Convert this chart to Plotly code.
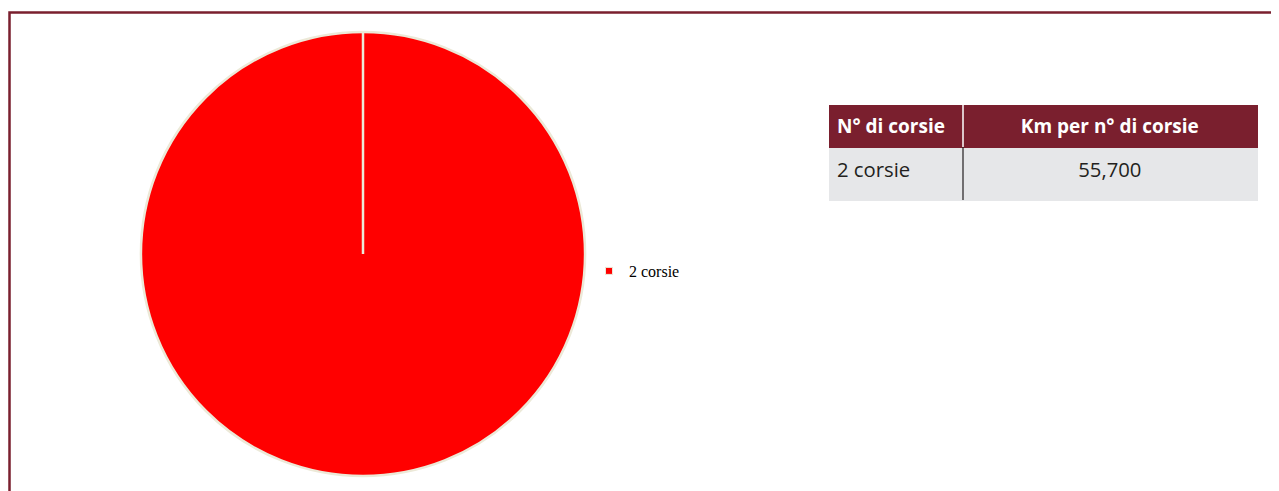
import plotly.graph_objects as go

# data
labels = ['2 corsie']
km_values = [55.7]
header_cols = ['N° di corsie', 'Km per n° di corsie']
col_corsie = ['2 corsie']
col_km = ['55,700']

# page has an 8px body margin, so positions below are page px minus 8
W, H = 1279, 491
wine = '#7a1f2e'
edge = '#ece9d8'
red = '#ff0000'
grey = '#e6e7e9'


def lowered(vals):
    # big cell font + <sub> (70%) -> ~20px text sitting lower in the tall row
    return ['<sub>%s</sub>' % v for v in vals]


fig = go.Figure()

fig.add_trace(go.Pie(
    labels=labels, values=km_values,
    marker=dict(colors=[red], line=dict(color=edge, width=2.5)),
    textinfo='none', sort=False, direction='clockwise', rotation=0,
    domain=dict(x=[133 / W, 577 / W], y=[1 - 468 / H, 1 - 24 / H]),
    showlegend=False, hoverinfo='label+value',
))

# legend entry with a small square swatch
fig.add_trace(go.Scatter(
    x=[None], y=[None], mode='markers', name=labels[0],
    marker=dict(symbol='square', size=7, color=red,
                line=dict(color=edge, width=1)),
))

fig.add_trace(go.Table(
    domain=dict(x=[821 / W, 1250 / W], y=[1 - 197 / H, 1 - 97 / H]),
    columnwidth=[134, 295],
    header=dict(
        values=['<b>%s</b>' % h for h in header_cols],
        fill_color=wine, line=dict(color=wine, width=1),
        align=['left', 'center'], height=42,
        font=dict(family='Open Sans', size=19, color='white'),
    ),
    cells=dict(
        values=[lowered(col_corsie), lowered(col_km)],
        fill_color=grey, line=dict(color=grey, width=1),
        align=['left', 'center'], height=53,
        font=dict(family='Open Sans', size=29, color='#231f20'),
    ),
))

# column separators
fig.add_shape(type='line', xref='paper', yref='paper',
              x0=955 / W, x1=955 / W, y0=1 - 139 / H, y1=1 - 97 / H,
              line=dict(color='white', width=1.5))
fig.add_shape(type='line', xref='paper', yref='paper',
              x0=955 / W, x1=955 / W, y0=1 - 192 / H, y1=1 - 139 / H,
              line=dict(color='#231f20', width=1.2))

# slice edge from centre to top (single 100% slice)
fig.add_shape(type='line', xref='paper', yref='paper',
              x0=355 / W, x1=355 / W, y0=1 - 246 / H, y1=1 - 24 / H,
              line=dict(color=edge, width=2.5))

# outer frame
fig.add_shape(type='rect', xref='paper', yref='paper',
              x0=1.5 / W, x1=1.05, y0=-0.1, y1=1 - 4.5 / H,
              line=dict(color=wine, width=2.5), fillcolor='rgba(0,0,0,0)')

fig.update_layout(
    width=W, height=H,
    margin=dict(l=0, r=0, t=0, b=0),
    paper_bgcolor='white', plot_bgcolor='white',
    xaxis=dict(visible=False), yaxis=dict(visible=False),
    showlegend=True,
    legend=dict(x=581 / W, y=1 - 263 / H, xanchor='left', yanchor='middle',
                font=dict(family='Liberation Serif', size=16, color='black'),
                itemwidth=30, bgcolor='rgba(0,0,0,0)'),
)

fig.write_html('out.html')
